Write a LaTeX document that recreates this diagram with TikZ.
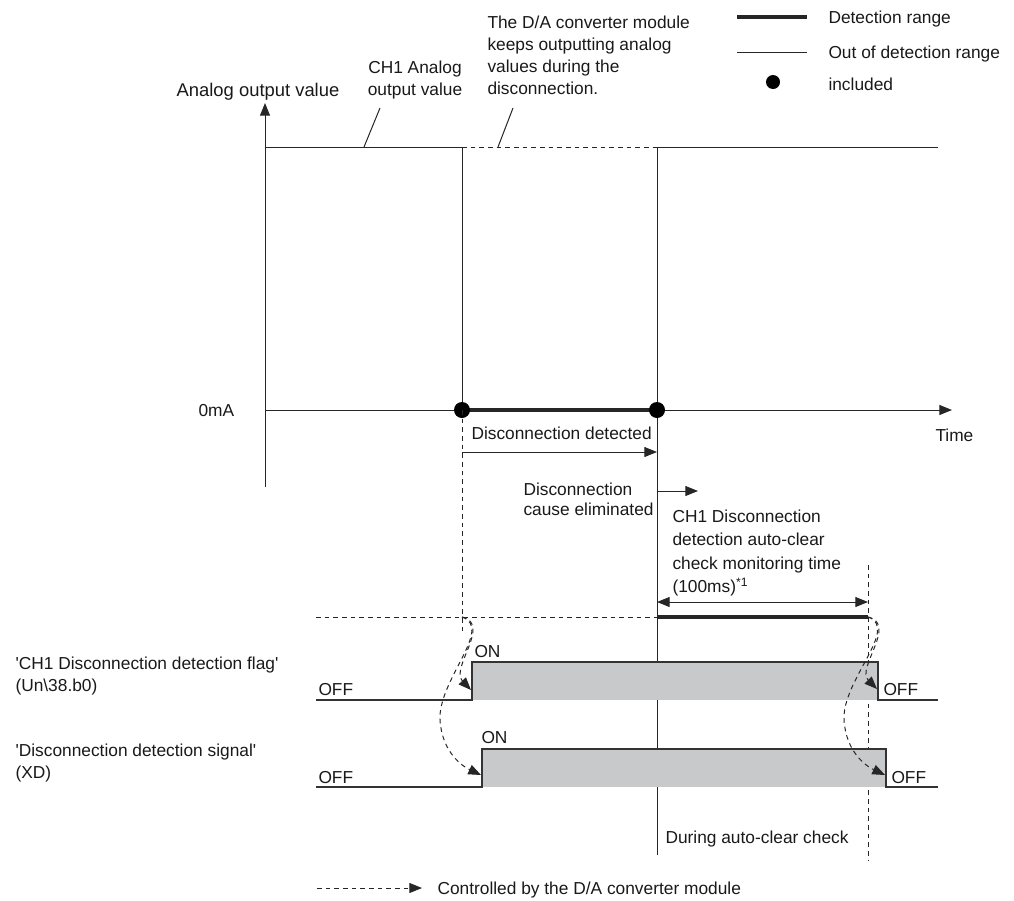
\documentclass[tikz,border=0pt]{standalone}
\usepackage{fontspec}
\setmainfont{Liberation Sans}
\usepackage{tikz}
\usetikzlibrary{arrows.meta,positioning}
\definecolor{sigfill}{RGB}{200,201,203}

\begin{document}
\begin{tikzpicture}[
      x=0.75pt, y=-0.75pt,
      line width=0.75pt, draw=black!85,
      >={Triangle[length=9.5pt,width=7.5pt]},
      lbl/.style={
         inner sep=0pt,
         font=\fontsize{13}{16.5}\selectfont,
         text=black!90
      },
      txt/.style={lbl, align=left, anchor=north west},
      detline/.style={line width=3pt},
      ctrl/.style={dash pattern=on 3.5pt off 3pt},
      dot/.style={circle, fill=black, inner sep=0pt, minimum size=12pt},
      wave/.style={draw=black!80, line width=1pt},
   ]
   \useasboundingbox (0,0) rectangle (1014,900);

   % axes
   \coordinate (ytop) at (265,103);
   \coordinate (ybot) at (265,487);
   \coordinate (o)    at (265,410);
   \coordinate (tend) at (952,410);
   \draw[->] (ybot) -- (ytop);
   \draw[->] (o) -- (tend);
   \node[lbl, anchor=base, font=\fontsize{13.8}{16.5}\selectfont] (yname) at (258,96) {Analog output value};
   \node[lbl, anchor=base west] (zero) at (198,416) {0mA};
   \node[lbl, anchor=base west] (time) at (935,441) {Time};

   % analog output value
   \coordinate (hi0) at (265,147);
   \coordinate (hiA) at (462,147);
   \coordinate (hiB) at (657,147);
   \coordinate (hiE) at (938,147);
   \coordinate (det) at (462,410);
   \coordinate (clr) at (657,410);
   \draw (hi0) -- (hiA) -- (det);
   \draw[ctrl] (hiA) -- (hiB);
   \draw (hiB) -- (hiE);
   \draw (hiB) -- (657,855);
   \draw[detline] (det) -- (clr);
   \node[dot] (ddet) at (det) {};
   \node[dot] (dclr) at (clr) {};

   \node[lbl, align=center, anchor=north] (ch1) at (415,60) {CH1 Analog\\output value};
   \draw (380,108) -- (364,147);
   \node[txt] (keeps) at (487,15) {The D/A converter module\\keeps outputting analog\\values during the\\disconnection.};
   \draw (513,108) -- (498,147);

   % timing
   \draw[ctrl] (det) -- (462,635);
   \draw[->] (462,452) -- (657,452);
   \node[lbl, anchor=base west] (detected) at (471,439) {Disconnection detected};
   \node[txt, font=\fontsize{13}{15}\selectfont] (cause) at (523,482) {Disconnection\\cause eliminated};
   \draw[->] (657,491) -- (698,491);
   \node[txt, font=\fontsize{13}{17.6}\selectfont] (mon) at (672,509)
      {CH1 Disconnection\\detection auto-clear\\check monitoring time\\(100ms)\textsuperscript{*1}};
   \draw[<->] (657,602) -- (868,602);
   \draw[ctrl] (316,617) -- (657,617);
   \draw[detline] (657,617) -- (868,617);
   \draw[ctrl] (868,565) -- (868,860);

   % flag
   \fill[sigfill] (472,662) rectangle (878,700);
   \draw[wave] (316,700) -- (472,700) |- (878,662) |- (938,700);
   \node[txt] (flag) at (15,656) {\textquotesingle CH1 Disconnection detection flag\textquotesingle\\(Un\textbackslash 38.b0)};
   \node[lbl, anchor=base west] (fon)   at (474,657) {ON};
   \node[lbl, anchor=base west] (foff1) at (318,695) {OFF};
   \node[lbl, anchor=base west] (foff2) at (883,695) {OFF};

   % signal
   \fill[sigfill] (482,749) rectangle (886,787);
   \draw[wave] (316,787) -- (482,787) |- (886,749) |- (938,787);
   \node[txt] (sig) at (15,743) {\textquotesingle Disconnection detection signal\textquotesingle\\(XD)};
   \node[lbl, anchor=base west] (son)   at (481,743) {ON};
   \node[lbl, anchor=base west] (soff1) at (318,783) {OFF};
   \node[lbl, anchor=base west] (soff2) at (891,783) {OFF};

   % controlled by module
   \draw[ctrl, ->] (462,617) .. controls (492,624) and (450,668) .. (471,690);
   \draw[ctrl, ->] (462,617) .. controls (494,628) and (438,680) .. (440,720)
      .. controls (442,752) and (462,766) .. (481,775);
   \draw[ctrl, ->] (868,617) .. controls (898,624) and (856,668) .. (877,689);
   \draw[ctrl, ->] (868,617) .. controls (900,628) and (842,680) .. (844,720)
      .. controls (846,752) and (866,766) .. (885,775);

   \node[lbl, anchor=base west] (during) at (665,843) {During auto-clear check};

   % legends
   \draw[ctrl, ->] (317,888) -- (422,888);
   \node[lbl, anchor=base west] (ctrltxt) at (437,894) {Controlled by the D/A converter module};
   \draw[detline] (737,17) -- (807,17);
   \node[lbl, anchor=base west] (lrange) at (828,23) {Detection range};
   \draw (737,52) -- (807,52);
   \node[lbl, anchor=base west] (lout) at (828,58) {Out of detection range};
   \node[dot, minimum size=10.5pt] (ldot) at (773,82) {};
   \node[lbl, anchor=base west] (linc) at (828,90) {included};
\end{tikzpicture}
\end{document}
